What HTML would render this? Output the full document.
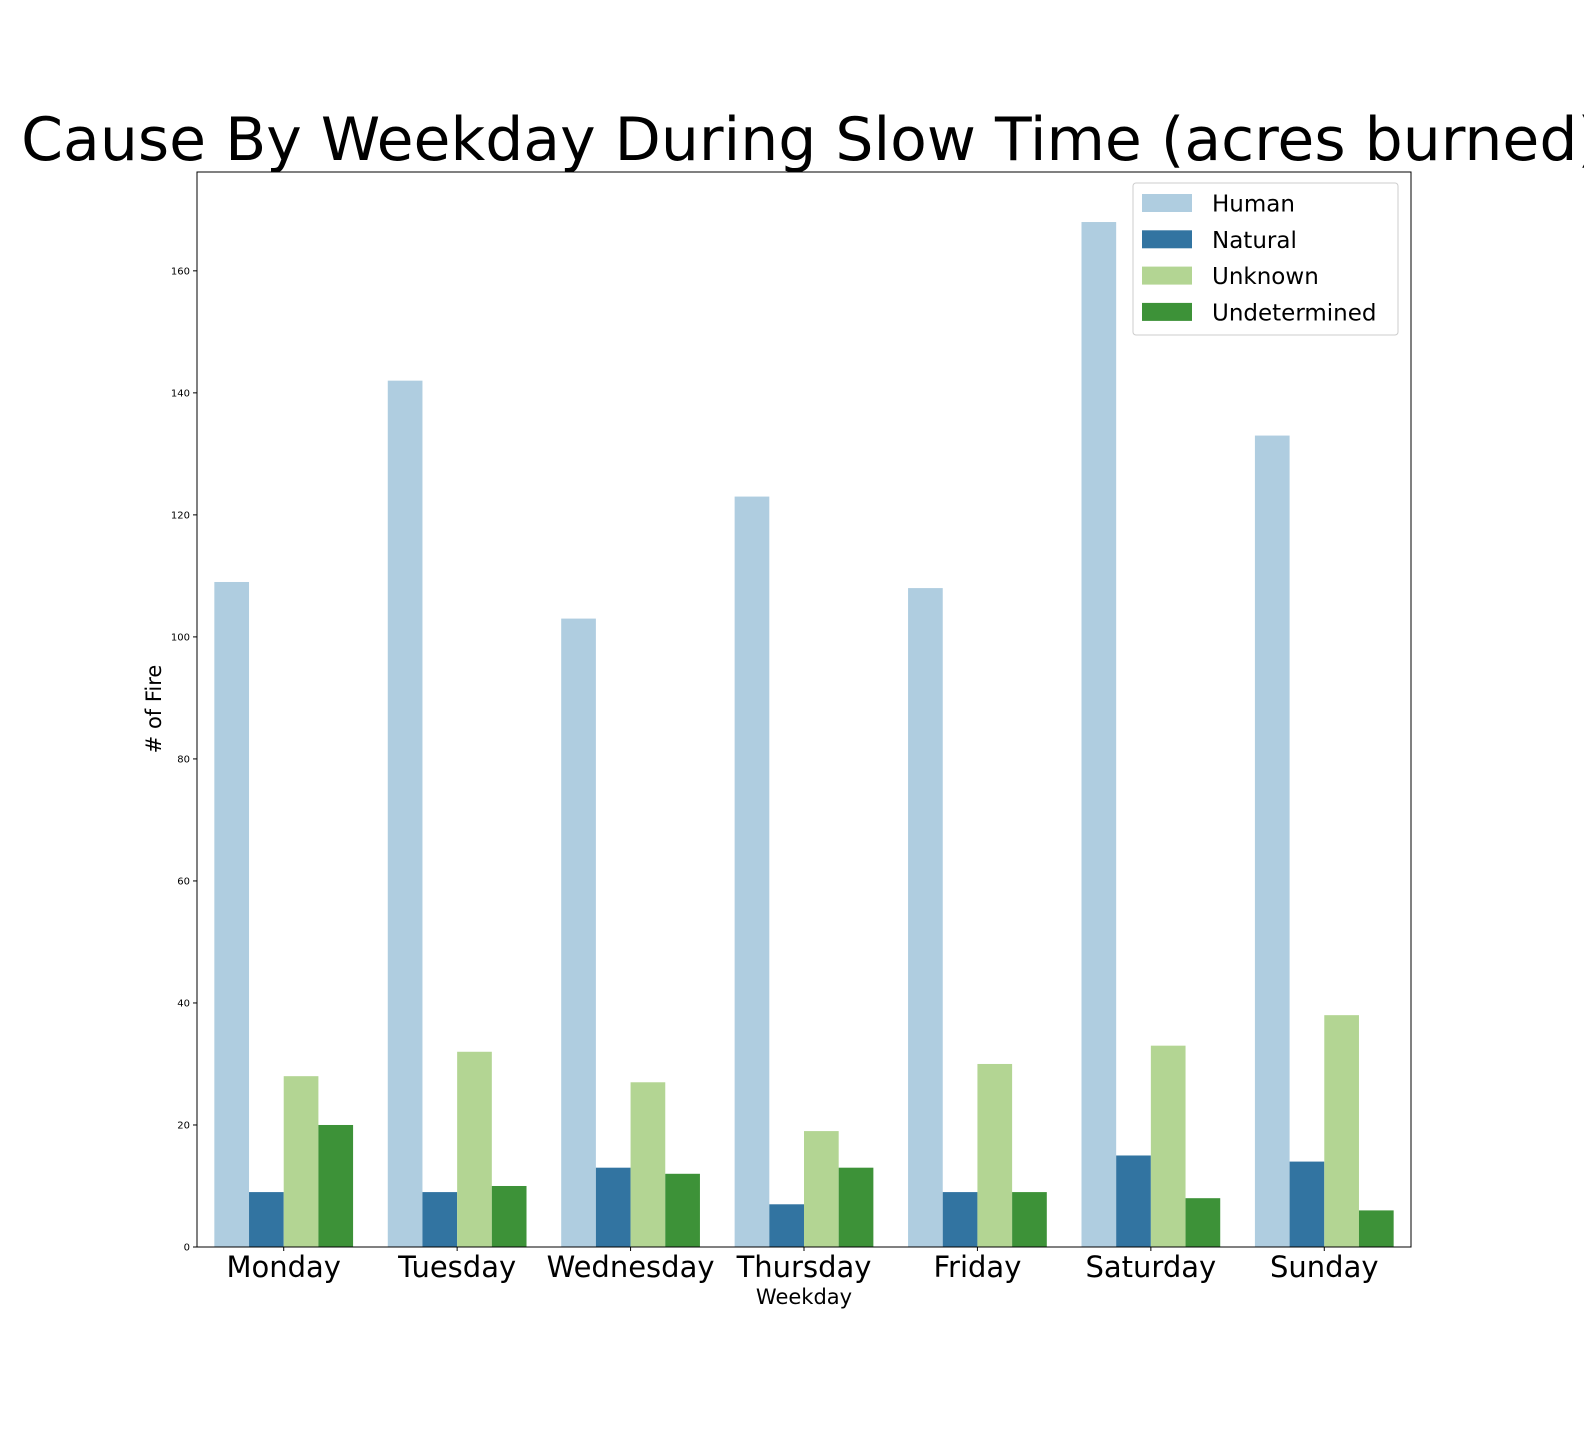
<!DOCTYPE html>
<html><head><meta charset="utf-8"><style>
body{margin:0;background:#fff;}
svg text{font-family:"DejaVu Sans","Liberation Sans",sans-serif;}
</style></head><body>
<svg id="chart" width="1584" height="1440">
<text x="811" y="160" font-size="60" text-anchor="middle">Cause By Weekday During Slow Time (acres burned)</text>
<g id="bars"></g>
<g id="axes"></g>
<rect x="197" y="172" width="1214" height="1075" fill="none" stroke="#000" stroke-width="1"/>
<text x="804" y="1304" font-size="21" text-anchor="middle">Weekday</text>
<text transform="translate(161,709) rotate(-90)" font-size="21" text-anchor="middle"># of Fire</text>
<g id="legend">
<rect x="1133" y="183" width="265" height="152" fill="#fff" fill-opacity="0.8" stroke="#ccc" rx="3"/>
</g>
</svg>
<script>
const categories=["Monday","Tuesday","Wednesday","Thursday","Friday","Saturday","Sunday"];
const seriesNames=["Human","Natural","Unknown","Undetermined"];
const human=[109,142,103,123,108,168,133];
const natural=[9,9,13,7,9,15,14];
const unknown=[28,32,27,19,30,33,38];
const undetermined=[20,10,12,13,9,8,6];
const yTicks=[0,20,40,60,80,100,120,140,160];
const colors=["#afcde0","#3274a1","#b3d593","#3d9238"];
const series=[human,natural,unknown,undetermined];
const ns="http://www.w3.org/2000/svg";
const x0=197,x1=1411,yBase=1247,yTop=172,yMax=176.2;
const band=(x1-x0)/categories.length, bw=band*0.8/4;
function y(v){return yBase-v*(yBase-yTop)/yMax;}
function xc(i){return x0+band*(i+0.5);}
const bars=document.getElementById('bars'),axes=document.getElementById('axes'),legend=document.getElementById('legend');
function mk(t,a,p){const e=document.createElementNS(ns,t);for(const k in a)e.setAttribute(k,a[k]);p.appendChild(e);return e;}
series.forEach((s,si)=>{s.forEach((v,i)=>{
 const r=mk('rect',{x:xc(i)-2*bw+si*bw,y:y(v),width:bw,height:yBase-y(v),fill:colors[si]},bars);
 
 
});});
yTicks.forEach(t=>{
 const l=mk('line',{x1:x0-4,x2:x0,y1:y(t),y2:y(t),stroke:'#000'},axes);
 
 
 const tx=mk('text',{x:x0-7,y:y(t)+3.5,'font-size':10,'text-anchor':'end'},axes);
 tx.textContent=t;
 
 
});
categories.forEach((c,i)=>{
 const l=mk('line',{x1:xc(i),x2:xc(i),y1:yBase,y2:yBase+4,stroke:'#000'},axes);
 
 
 const tx=mk('text',{x:xc(i),y:yBase+30,'font-size':29,'text-anchor':'middle'},axes);
 tx.textContent=c;
 
 
});
seriesNames.forEach((n,i)=>{
 const yy=203+i*36.3;
 const r=mk('rect',{x:1142,y:yy-9,width:50,height:18,fill:colors[i]},legend);
 
 
 const t=mk('text',{x:1212,y:yy+8.5,'font-size':23},legend);
 t.textContent=n;
 
 
});
</script>
</body></html>
